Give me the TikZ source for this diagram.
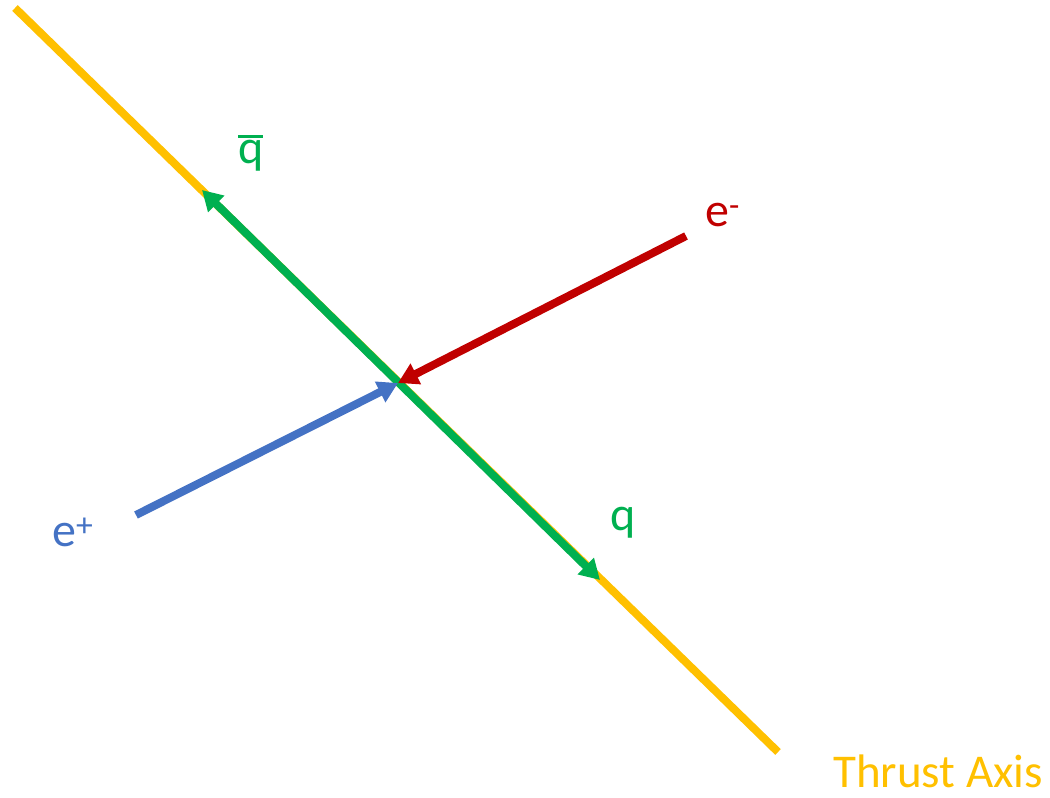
\documentclass[tikz,border=0pt]{standalone}
\usepackage{fontspec}
\setmainfont{Carlito}
\usetikzlibrary{arrows.meta}
\definecolor{axisyellow}{HTML}{FFC000}
\definecolor{qgreen}{HTML}{00B050}
\definecolor{ered}{HTML}{C00000}
\definecolor{eblue}{HTML}{4472C4}
\newcommand{\qbarsym}{{\setbox0\hbox{q}\makebox[0pt][l]{\raisebox{25pt}{\rule{\wd0}{2.8pt}}}q}}
\tikzset{
  beam/.style={line width=8pt},
  tip/.style={-{Triangle[length=20pt,width=22pt]}},
  lbl/.style={font=\fontsize{48}{56}\selectfont, inner sep=0pt, anchor=base west},
}
\begin{document}
\begin{tikzpicture}[x=1pt,y=-1pt]
\useasboundingbox (0,0) rectangle (1050,798);
\coordinate (axA) at (15,8);
\coordinate (axB) at (778,752);
\coordinate (qbarT) at (202,190);
\coordinate (qT) at (600,580);
\coordinate (vtx) at (398,383);
\coordinate (emS) at (686,236);
\coordinate (epS) at (136,515);
\draw[beam, axisyellow] (axA) -- (axB);
\draw[beam, qgreen, {Triangle[length=20pt,width=22pt]}-{Triangle[length=20pt,width=22pt]}] (qbarT) -- (qT);
\draw[beam, ered, tip] (emS) -- (vtx);
\draw[beam, eblue, tip] (epS) -- (vtx);
\node[lbl, text=qgreen] (lqbar) at (238,163) {\qbarsym};
\node[lbl, text=qgreen] (lq) at (610,530) {q};
\node[lbl, text=ered] (lem) at (705,226) {e\textsuperscript{-}};
\node[lbl, text=eblue] (lep) at (52,546) {e\textsuperscript{+}};
\node[text=axisyellow, font=\fontsize{47}{54}\selectfont, inner sep=0pt, anchor=base west] (lax) at (833,787) {Thrust Axis};
\end{tikzpicture}
\end{document}
